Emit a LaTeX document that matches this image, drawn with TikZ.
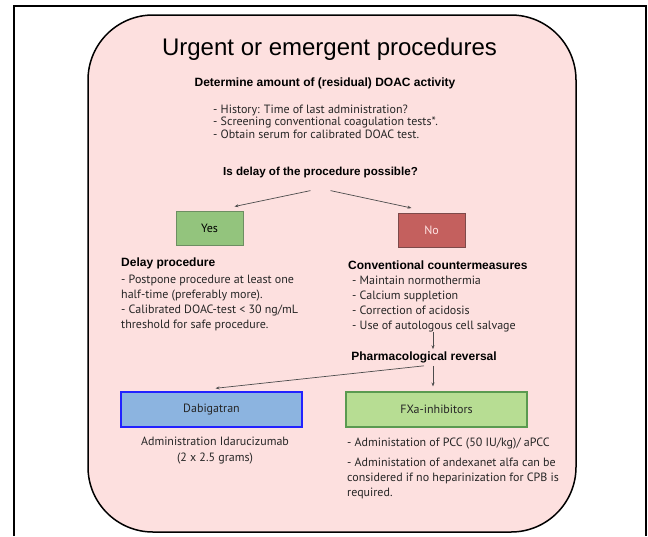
\documentclass[tikz,border=0pt]{standalone}
\usepackage{fontspec}
\usepackage{xcolor}
\usetikzlibrary{arrows.meta}
\setmainfont{PT Sans}
\newfontfamily\headfont{Liberation Sans}

\definecolor{boxpink}{HTML}{FDE0DF}
\definecolor{yesgreen}{HTML}{93C47D}
\definecolor{yesedge}{HTML}{6D8E62}
\definecolor{nored}{HTML}{C4605E}
\definecolor{noedge}{HTML}{7D4A4A}
\definecolor{dabiblue}{HTML}{8CB4E0}
\definecolor{dabiedge}{HTML}{2222FF}
\definecolor{fxagreen}{HTML}{B7DD93}
\definecolor{fxaedge}{HTML}{5A9A50}

\begin{document}
\begin{tikzpicture}[x=1pt, y=-1pt,
    heading/.style={font=\headfont\bfseries\fontsize{12}{14}\selectfont, inner sep=0pt},
    bodytext/.style={font=\fontsize{12}{15}\selectfont, align=left, inner sep=0pt, text=black!85},
    choice/.style={draw, line width=1pt, minimum width=67pt, minimum height=34pt, font=\fontsize{12}{14}\selectfont},
    drug/.style={draw, line width=1.4pt, minimum width=181pt, minimum height=35pt, font=\fontsize{12}{14}\selectfont, text=black!85},
    link/.style={draw=black!70, line width=.7pt, -{Stealth[length=4pt, width=3pt]}}]

    \useasboundingbox (0,0) rectangle (648,536);
    % frame
    \draw[line width=2pt] (14,536) -- (14,6) -- (646,6) -- (646,536);
    \draw[fill=boxpink, line width=1.5pt, rounded corners=65pt] (88,15) rectangle (576,532);

    %labels
    \node[font=\headfont\fontsize{24}{28}\selectfont] (title) at (329.5,49) {Urgent or emergent procedures};
    \node[heading] (determine) at (325,83) {Determine amount of (residual) DOAC activity};
    \node[bodytext, font=\fontsize{12}{12.5}\selectfont, anchor=west] (history) at (213,121.5)
        {- History: Time of last administration?\\
         - Screening conventional coagulation tests*.\\
         - Obtain serum for calibrated DOAC test.};
    \node[heading, font=\headfont\bfseries\fontsize{11.6}{14}\selectfont] (delayq) at (320.5,172) {Is delay of the procedure possible?};

    % Yes / No
    \node[choice, fill=yesgreen, draw=yesedge] (yes) at (209.5,228) {Yes};
    \node[choice, fill=nored, draw=noedge, text=red!10] (no) at (431.5,230.5) {No};
    \draw[link] ([xshift=-10pt, yshift=-13pt]delayq.south) -- ([xshift=25pt, yshift=4pt]yes.north);
    \draw[link] ([xshift=10pt, yshift=-13pt]delayq.south) -- ([xshift=-20pt, yshift=5pt]no.north);

    % Delay procedure
    \node[heading, anchor=west] (delay) at (121,263) {Delay procedure};
    \node[bodytext, anchor=west] (delaylist) at (121,302.5)
        {- Postpone procedure at least one\\
         half-time (preferably more).\\
         - Calibrated DOAC-test < 30 ng/mL\\
         threshold for safe procedure.};

    % Conventional countermeasures
    \node[heading, anchor=west] (counter) at (348,265) {Conventional countermeasures};
    \node[bodytext, anchor=west] (counterlist) at (352,304)
        {- Maintain normothermia\\
         - Calcium suppletion\\
         - Correction of acidosis\\
         - Use of autologous cell salvage};
    \node[heading] (pharm) at (424,357) {Pharmacological reversal};
    \draw[link] ([xshift=9pt]pharm.north |- counterlist.south) -- ([xshift=9pt, yshift=2pt]pharm.north);

    % Reversal agents
    \node[drug, fill=dabiblue, draw=dabiedge] (dabi) at (211.5,409.5) {Dabigatran};
    \node[drug, fill=fxagreen, draw=fxaedge, line width=1.1pt] (fxa) at (436.5,409.5) {FXa-inhibitors};
    \draw[link] ([yshift=-3pt]pharm.south) -- ([xshift=4pt, yshift=3pt]dabi.north);
    \draw[link] ([xshift=9pt, yshift=-3pt]pharm.south) -- ([xshift=9pt, yshift=5pt]pharm.south |- fxa.north);

    \node[bodytext, align=center, font=\fontsize{12}{16}\selectfont] (idaru) at (215,451)
        {Administration Idarucizumab\\(2 x 2.5 grams)};
    \node[bodytext, anchor=west] (pcc) at (347,468.5)
        {- Administation of PCC (50 IU/kg)/ aPCC\\[5pt]
         - Administation of andexanet alfa can be\\
         considered if no heparinization for CPB is\\
         required.};
\end{tikzpicture}
\end{document}
